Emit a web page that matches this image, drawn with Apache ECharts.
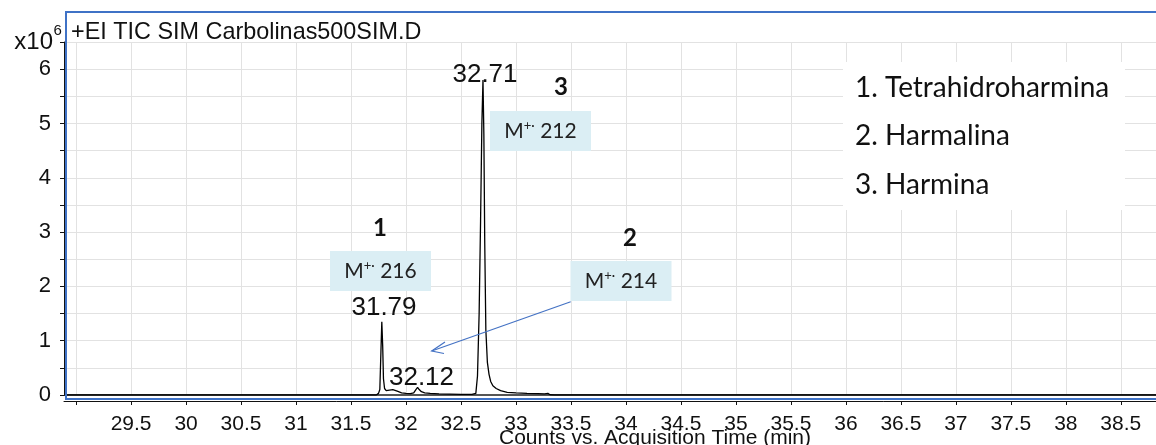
<!DOCTYPE html>
<html><head><meta charset="utf-8">
<script src="https://cdn.jsdelivr.net/npm/echarts@6/dist/echarts.min.js"></script>
<style>html,body{margin:0;padding:0;background:#fff}#c{width:1156px;height:445px}</style>
</head><body><div id="c"></div>
<script>
// Acquisition time (min)
const times = [28.89, 31.73, 31.75, 31.762, 31.772, 31.78, 31.788, 31.795, 31.805, 31.82, 31.85, 31.88, 31.92, 31.96, 32.00, 32.04, 32.07, 32.09, 32.105, 32.12, 32.14, 32.17, 32.22, 32.30, 32.40, 32.50, 32.60, 32.635, 32.65, 32.665, 32.678, 32.69, 32.70, 32.708, 32.716, 32.726, 32.74, 32.755, 32.77, 32.79, 32.82, 32.86, 32.92, 33.00, 33.10, 33.20, 33.26, 33.275, 33.29, 33.31, 33.35, 38.82];
// Counts (x10^6)
const counts = [0, 0, 0.03, 0.1, 0.8, 1.35, 0.9, 0.3, 0.12, 0.08, 0.09, 0.1, 0.07, 0.04, 0.03, 0.025, 0.04, 0.1, 0.14, 0.1, 0.06, 0.04, 0.03, 0.02, 0.015, 0.01, 0.01, 0.03, 0.35, 1.5, 3.2, 5.0, 5.8, 4.8, 2.8, 1.2, 0.6, 0.38, 0.25, 0.17, 0.12, 0.08, 0.05, 0.04, 0.03, 0.025, 0.02, 0.05, 0.03, 0.005, 0, 0];
const xMin = 28.89, xMax = 38.82, xStep = 0.5, xFirstLabel = 29.5;
const yMin = 0, yMax = 6.5, yStep = 0.5, yLastLabel = 6;
const titleText = '+EI TIC SIM Carbolinas500SIM.D';
const xAxisTitle = 'Counts vs. Acquisition Time (min)';
const peakLabels = ['31.79', '32.12', '32.71'];
const compoundNums = ['1', '2', '3'];
const ionMasses = ['216', '214', '212'];
const compoundNames = ['1. Tetrahidroharmina', '2. Harmalina', '3. Harmina'];

const data = times.map((t, i) => [t, counts[i]]);
const AR = 'Liberation Sans, Arial, sans-serif';
const CAL = 'Lato, Open Sans, sans-serif';

function ionBox(cx, cy, mass) {
  return [
    {type: 'rect', z: 10, shape: {x: cx - 50.5, y: cy - 20, width: 101, height: 40}, style: {fill: '#DBEEF4'}},
    {type: 'text', z: 11, x: cx, y: cy, style: {
      text: '{m|M}{s|+·}{m| ' + mass + '}', align: 'center', verticalAlign: 'middle',
      rich: {m: {fontFamily: CAL, fontSize: 21, lineHeight: 24, fill: '#222'},
             s: {fontFamily: CAL, fontSize: 13, lineHeight: 24, verticalAlign: 'top', fill: '#222'}}}}
  ];
}

const graphics = [].concat(
  [
    {type: 'text', z: 10, x: 71, y: 33, style: {text: titleText, font: '23.4px ' + AR, fill: '#111', verticalAlign: 'middle'}},
    {type: 'text', z: 10, x: 53, y: 42, style: {text: 'x10', font: '24px ' + AR, fill: '#111', align: 'right', verticalAlign: 'middle'}},
    {type: 'text', z: 10, x: 53.5, y: 31, style: {text: '6', font: '15px ' + AR, fill: '#111', align: 'left', verticalAlign: 'middle'}},
    {type: 'rect', z: 9, shape: {x: 843, y: 62, width: 282, height: 148}, style: {fill: '#fff'}},
    {type: 'text', z: 10, x: 855, y: 88, style: {text: compoundNames[0], font: '28px ' + CAL, fill: '#111', verticalAlign: 'middle'}},
    {type: 'text', z: 10, x: 855, y: 136, style: {text: compoundNames[1], font: '28px ' + CAL, fill: '#111', verticalAlign: 'middle'}},
    {type: 'text', z: 10, x: 855, y: 185, style: {text: compoundNames[2], font: '28px ' + CAL, fill: '#111', verticalAlign: 'middle'}},
    {type: 'text', z: 10, x: 384, y: 308, style: {text: peakLabels[0], font: '26px ' + AR, fill: '#111', align: 'center', verticalAlign: 'middle'}},
    {type: 'text', z: 10, x: 421.5, y: 378, style: {text: peakLabels[1], font: '26px ' + AR, fill: '#111', align: 'center', verticalAlign: 'middle'}},
    {type: 'text', z: 10, x: 485, y: 75, style: {text: peakLabels[2], font: '26px ' + AR, fill: '#111', align: 'center', verticalAlign: 'middle'}},
    {type: 'text', z: 10, x: 380, y: 228, style: {text: compoundNums[0], font: 'bold 24px ' + CAL, fill: '#111', align: 'center', verticalAlign: 'middle'}},
    {type: 'text', z: 10, x: 630, y: 238, style: {text: compoundNums[1], font: 'bold 24px ' + CAL, fill: '#111', align: 'center', verticalAlign: 'middle'}},
    {type: 'text', z: 10, x: 561, y: 87, style: {text: compoundNums[2], font: 'bold 24px ' + CAL, fill: '#111', align: 'center', verticalAlign: 'middle'}},
    {type: 'line', z: 12, shape: {x1: 570.7, y1: 301.7, x2: 431.7, y2: 351}, style: {stroke: '#4472C4', lineWidth: 1.2}},
    {type: 'polyline', z: 12, shape: {points: [[445, 342], [431.7, 351], [444, 353.5]]}, style: {stroke: '#4472C4', lineWidth: 1.2, fill: null}},
    {type: 'text', z: 10, x: 655, y: 438, style: {text: xAxisTitle, font: '21px ' + AR, fill: '#111', align: 'center', verticalAlign: 'middle'}},
    {type: 'rect', z: 20, shape: {x: 66, y: 12, width: 1100, height: 387}, style: {fill: null, stroke: '#3F72C6', lineWidth: 2}}
  ],
  ionBox(380.5, 271, ionMasses[0]),
  ionBox(621, 281, ionMasses[1]),
  ionBox(540.5, 131, ionMasses[2])
);

const chart = echarts.init(document.getElementById('c'), null, {renderer: 'canvas'});
chart.setOption({
  animation: false,
  backgroundColor: '#fff',
  grid: {left: 64, right: 0, top: 42, bottom: 50, containLabel: false, outerBoundsMode: 'none'},
  xAxis: {
    type: 'value', min: xMin, max: xMax, minInterval: xStep, maxInterval: xStep, splitNumber: 20,
    offset: 6,
    axisLine: {show: true, onZero: false, lineStyle: {color: '#111', width: 1}},
    axisTick: {show: true, length: 4, lineStyle: {color: '#111'}},
    axisLabel: {show: true, margin: 13, fontSize: 21, fontFamily: AR, color: '#111', showMinLabel: false, showMaxLabel: false,
      formatter: v => v < xFirstLabel - 1e-9 ? '' : String(v)},
    splitLine: {show: true, lineStyle: {color: '#E2E2E2', width: 1}}
  },
  yAxis: {
    type: 'value', min: yMin, max: yMax, interval: yStep,
    axisLine: {show: true, lineStyle: {color: '#111', width: 1}},
    axisTick: {show: true, length: 4, lineStyle: {color: '#111'}},
    axisLabel: {show: true, margin: 13, fontSize: 22, fontFamily: AR, color: '#111',
      formatter: v => (Math.abs(v - Math.round(v)) < 1e-9 && v <= yLastLabel) ? String(Math.round(v)) : ''},
    splitLine: {show: true, lineStyle: {color: '#E2E2E2', width: 1}}
  },
  series: [{
    type: 'line', data: data, showSymbol: false, symbol: 'none', z: 3,
    lineStyle: {color: '#000', width: 1.3},
    markLine: {silent: true, symbol: 'none', label: {show: false}, z: 2,
      lineStyle: {color: '#555', width: 2, type: 'solid'}, data: [{yAxis: 0}]}
  }],
  graphic: graphics
});
</script></body></html>
